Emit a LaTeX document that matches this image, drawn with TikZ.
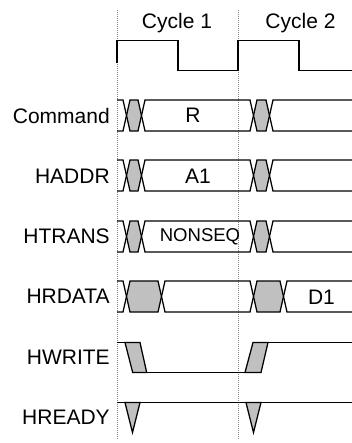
\documentclass[tikz,border=0pt]{standalone}
\usepackage{fontspec}
\setmainfont{Liberation Sans}
\definecolor{gapgray}{RGB}{192,192,192}
% one bus row: top y, width of the gray gap in cycle 1 and in cycle 2
\newcommand{\busrow}[3]{%
  \fill[gap] (126.5,#1+15.5) -- (130,#1) -- (130+#2,#1) -- (133.5+#2,#1+15.5) -- (130+#2,#1+31) -- (130,#1+31) -- cycle;
  \fill[gap] (253.5,#1+15.5) -- (257,#1) -- (257+#3,#1) -- (260.5+#3,#1+15.5) -- (257+#3,#1+31) -- (257,#1+31) -- cycle;
  \draw[sig] (117,#1) -- (123,#1) -- (130,#1+31) -- (130+#2,#1+31) -- (137+#2,#1) -- (250,#1) -- (257,#1+31) -- (257+#3,#1+31) -- (264+#3,#1) -- (352,#1);
  \draw[sig] (117,#1+31) -- (123,#1+31) -- (130,#1) -- (130+#2,#1) -- (137+#2,#1+31) -- (250,#1+31) -- (257,#1) -- (257+#3,#1) -- (264+#3,#1+31) -- (352,#1+31);
}
\begin{document}
\begin{tikzpicture}[x=0.75pt,y=0.75pt,yscale=-1,xscale=1,
    sig/.style={line width=0.95pt, line join=miter},
    gap/.style={fill=gapgray},
    edge/.style={densely dotted, color=gray, line width=0.5pt},
    lbl/.style={anchor=east, inner sep=0pt, font=\fontsize{15.75}{18}\selectfont},
    val/.style={inner sep=0pt, font=\fontsize{15.75}{18}\selectfont}]
\useasboundingbox (0,0) rectangle (352,443);
%Cycle edges
\draw[edge] (117,10) -- (117,440);
\draw[edge] (238,10) -- (238,440);
%Clock
\draw[sig] (117,63) -- (117,40.7) -- (178,40.7) -- (178,70.7) -- (238,70.7) -- (238,40.7) -- (299,40.7) -- (299,70.7) -- (352,70.7);
\node[val, anchor=base] (cyc1) at (177,28) {Cycle 1};
\node[val, anchor=base] (cyc2) at (300.5,28) {Cycle 2};
%Bus rows
\busrow{100}{8}{9}
\busrow{160}{8}{9}
\busrow{221}{8}{9}
\busrow{281}{28}{23}
%HWRITE
\filldraw[gap, sig] (125,342.5) -- (140,342.5) -- (146.7,372.5) -- (132.7,372.5) -- cycle;
\filldraw[gap, sig] (245,372.5) -- (261,372.5) -- (268,342.5) -- (253,342.5) -- cycle;
\draw[sig] (117,342.5) -- (125,342.5);
\draw[sig] (146.7,372.5) -- (245,372.5);
\draw[sig] (268,342.5) -- (352,342.5);
%HREADY
\draw[sig] (117,402.5) -- (352,402.5);
\filldraw[gap, sig] (125,402.5) -- (140,402.5) -- (132.5,432.5) -- cycle;
\filldraw[gap, sig] (246,402.5) -- (261,402.5) -- (253.5,432.5) -- cycle;
%Signal names
\node[lbl] (command) at (110,115.5) {Command};
\node[lbl] (haddr) at (110,176) {HADDR};
\node[lbl] (htrans) at (110,236.5) {HTRANS};
\node[lbl] (hrdata) at (110,296.5) {HRDATA};
\node[lbl] (hwrite) at (110,357.5) {HWRITE};
\node[lbl] (hready) at (110,417.5) {HREADY};
%Values
\node[val] (rval) at (193,115.5) {R};
\node[val] (a1val) at (198,176) {A1};
\node[val, font=\fontsize{13.9}{16}\selectfont] (nonseq) at (200,237) {NONSEQ};
\node[val] (d1val) at (321.5,297.5) {D1};
\end{tikzpicture}
\end{document}
